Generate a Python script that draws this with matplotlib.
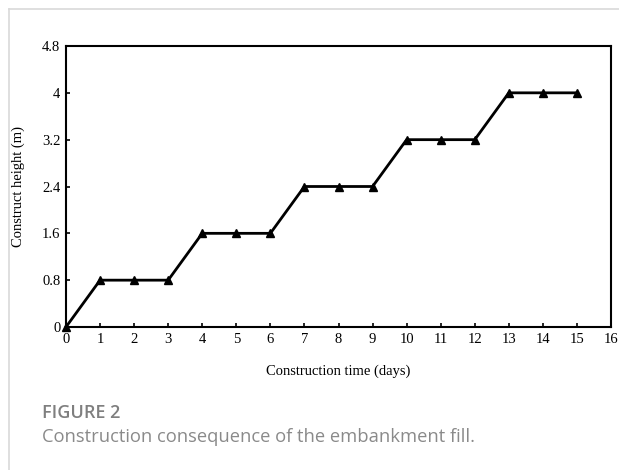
import matplotlib
matplotlib.use("Agg")
import matplotlib.pyplot as plt
from matplotlib.lines import Line2D

days = list(range(0, 16))
height = [0, 0.8, 0.8, 0.8, 1.6, 1.6, 1.6, 2.4, 2.4, 2.4, 3.2, 3.2, 3.2, 4.0, 4.0, 4.0]
x_ticks = list(range(0, 17))
y_ticks = [0, 0.8, 1.6, 2.4, 3.2, 4, 4.8]
y_tick_labels = ["0", "0.8", "1.6", "2.4", "3.2", "4", "4.8"]

fig = plt.figure(figsize=(6.19, 4.70), dpi=100)
ax = fig.add_axes([66/619, 1-327/470, (611-66)/619, (327-46)/470])

ax.plot(days, height, color="black", lw=2, marker="^", markersize=6, clip_on=False, zorder=5)
ax.set_xlim(0, 16)
ax.set_ylim(0, 4.8)
ax.set_xticks(x_ticks)
ax.set_yticks(y_ticks)
ax.set_yticklabels(y_tick_labels)
serif = "Liberation Serif"
for lab in ax.get_xticklabels() + ax.get_yticklabels():
    lab.set_fontfamily(serif)
    lab.set_fontsize(10.5)
ax.tick_params(direction="in", length=3, width=1.2, pad=4)
for s in ax.spines.values():
    s.set_linewidth(1.5)
ax.set_xlabel("Construction time (days)", fontfamily=serif, fontsize=10.5, labelpad=14)
ax.set_ylabel("Construct height (m)", fontfamily=serif, fontsize=10.5, labelpad=12)

# figure panel border (top and left)
fig.add_artist(Line2D([9/619, 1], [1-9/470, 1-9/470], color="#d9d9d9", lw=1.2, transform=fig.transFigure))
fig.add_artist(Line2D([9/619, 9/619], [0, 1-9/470], color="#d9d9d9", lw=1.2, transform=fig.transFigure))

fig.text(42/619, 1-413/470, "FIGURE 2", fontfamily="Open Sans", fontsize=13, color="#7f7f7f",
         fontweight="semibold", va="center", ha="left")
fig.text(42/619, 1-437/470, "Construction consequence of the embankment fill.", fontfamily="Open Sans",
         fontsize=13.2, color="#8a8a8a", va="center", ha="left")

fig.savefig("out.png", dpi=100)
